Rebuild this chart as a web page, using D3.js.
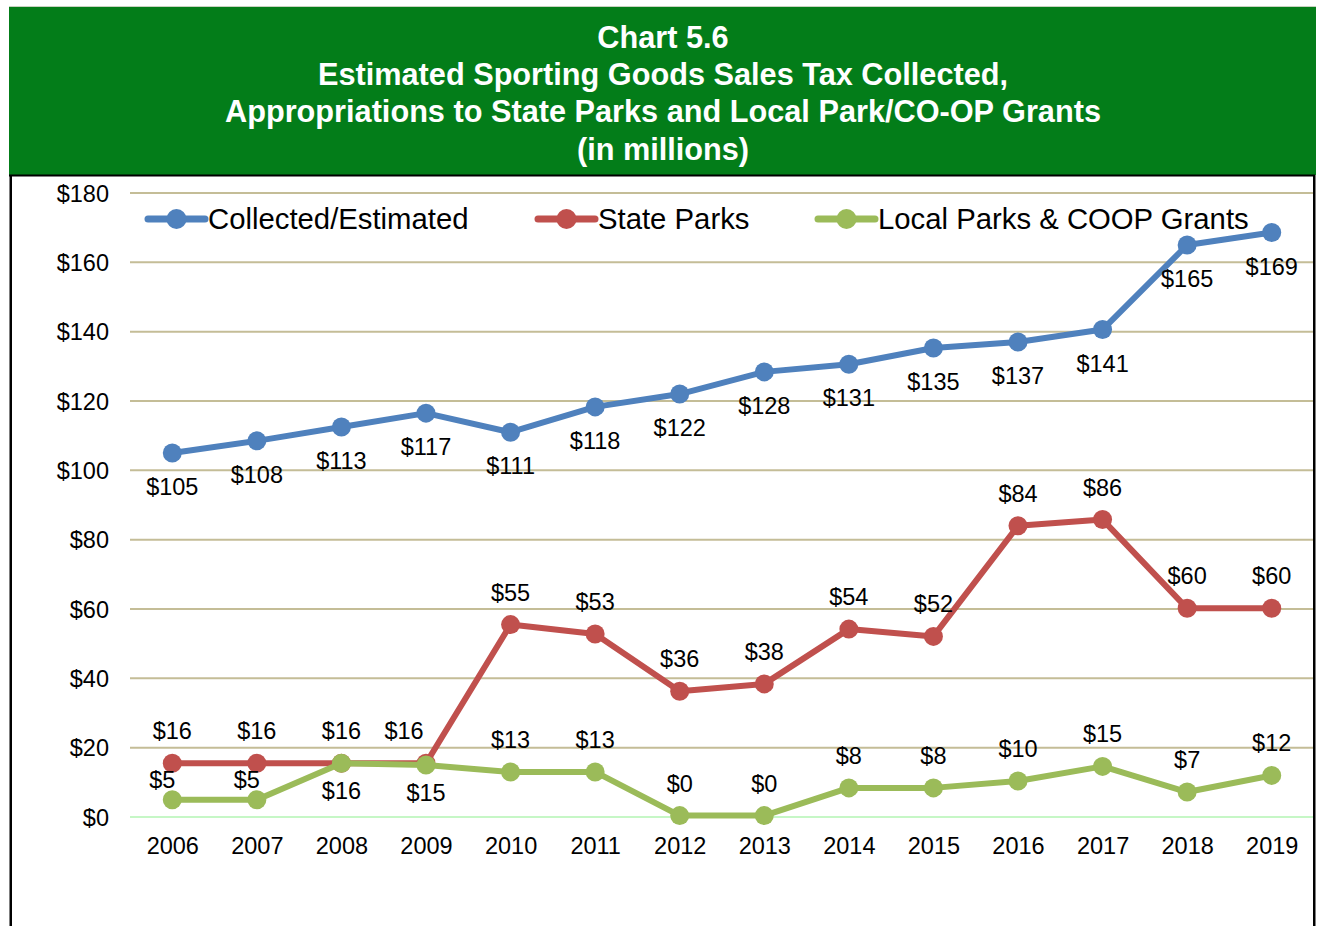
<!DOCTYPE html>
<html><head><meta charset="utf-8">
<script src="https://cdn.jsdelivr.net/npm/d3@7"></script>
<style>
html,body{margin:0;padding:0;background:#fff;}
svg{display:block;font-family:"Liberation Sans",Arial,sans-serif;}
</style></head>
<body>
<svg id="chart" width="1317" height="926"></svg>
<script>
const years = ["2006","2007","2008","2009","2010","2011","2012","2013","2014","2015","2016","2017","2018","2019"];
const collected = [105,108.5,112.5,116.5,111,118.3,122,128.4,130.6,135.3,137,140.6,165,168.6];
const stateParks = [15.5,15.5,15.5,15.5,55.5,52.8,36.3,38.4,54.2,52.1,84,85.8,60.2,60.2];
const localParks = [5,5,15.5,15,13,13,0.4,0.4,8.4,8.4,10.4,14.6,7.2,12];
const collectedLabels = ["$105","$108","$113","$117","$111","$118","$122","$128","$131","$135","$137","$141","$165","$169"];
const stateLabels = ["$16","$16","$16","$16","$55","$53","$36","$38","$54","$52","$84","$86","$60","$60"];
const localLabels = ["$5","$5","$16","$15","$13","$13","$0","$0","$8","$8","$10","$15","$7","$12"];
// label placement: "above", "below", "left" (above, shifted left), "tight" (just above-left)
const collectedPlace = years.map(()=>"below");
const statePlace = ["above","above","above","left","above","above","above","above","above","above","above","above","above","above"];
const localPlace = ["tight","tight","below","below","above","above","above","above","above","above","above","above","above","above"];
const yTicks = [0,20,40,60,80,100,120,140,160,180];
const titleLines = ["Chart 5.6","Estimated Sporting Goods Sales Tax Collected,","Appropriations to State Parks and Local Park/CO-OP Grants","(in millions)"];
const seriesNames = ["Collected/Estimated","State Parks","Local Parks & COOP Grants"];

const svg = d3.select("#chart");
const W = 1317, H = 926;
const FS = 23.5;

// frame
svg.append("rect").attr("x",9).attr("y",6).attr("width",1307).attr("height",1).attr("fill","#c8d2c0");
svg.append("rect").attr("x",9).attr("y",7).attr("width",1307).attr("height",168).attr("fill","#037d19");
svg.append("rect").attr("x",9).attr("y",174.5).attr("width",1306).attr("height",2).attr("fill","#000");
svg.append("rect").attr("x",9.5).attr("y",175).attr("width",2.5).attr("height",H-175).attr("fill","#000");
svg.append("rect").attr("x",1313).attr("y",175).attr("width",2.5).attr("height",H-175).attr("fill","#000");

// title
const title = svg.append("text").attr("text-anchor","middle").attr("fill","#fff")
  .attr("font-weight","bold").attr("font-size",30.7);
titleLines.forEach((t,i)=>{
  title.append("tspan").attr("x",663).attr("y",48+i*37.2).text(t);
});

const x = d3.scalePoint().domain(years).range([130,1314]).padding(0.5);
const y = d3.scaleLinear().domain([0,180]).range([817,193]);

// gridlines
svg.append("g").selectAll("line").data(yTicks).join("line")
  .attr("x1",130).attr("x2",1313).attr("y1",d=>y(d)).attr("y2",d=>y(d))
  .attr("stroke",d=>d===0?"#c6f7c6":"#c4bd97").attr("stroke-width",2);

// y axis
const yAxis = d3.axisLeft(y).tickValues(yTicks).tickSize(0).tickPadding(0).tickFormat(d=>"$"+d);
const gy = svg.append("g").attr("transform","translate(109,0)").call(yAxis);
gy.select(".domain").remove();
gy.selectAll("text").attr("font-size",FS).attr("fill","#000").attr("font-family","Liberation Sans, Arial, sans-serif").attr("dy","0.35em");

// x axis
const xAxis = d3.axisBottom(x).tickSize(0).tickPadding(0);
const gx = svg.append("g").attr("transform","translate(0,837)").call(xAxis);
gx.select(".domain").remove();
gx.selectAll("text").attr("font-size",FS).attr("fill","#000").attr("font-family","Liberation Sans, Arial, sans-serif").attr("dy","0.71em");

const series = [
  {name:seriesNames[0], values:collected, labels:collectedLabels, color:"#4f81bd", place:collectedPlace, belowDy:42},
  {name:seriesNames[1], values:stateParks, labels:stateLabels, color:"#c0504d", place:statePlace, belowDy:40},
  {name:seriesNames[2], values:localParks, labels:localLabels, color:"#9bbb59", place:localPlace, belowDy:36}
];

const line = d3.line().x((d,i)=>x(years[i])).y(d=>y(d));

series.forEach(s=>{
  const g = svg.append("g");
  g.append("path").datum(s.values).attr("d",line).attr("fill","none")
    .attr("stroke",s.color).attr("stroke-width",6).attr("stroke-linejoin","round");
  g.selectAll("circle").data(s.values).join("circle")
    .attr("cx",(d,i)=>x(years[i])).attr("cy",d=>y(d)).attr("r",9.5).attr("fill",s.color);
});
// labels on top
const offX = {above:0, below:0, left:-22, tight:-10};
series.forEach(s=>{
  const offY = {above:-24, below:s.belowDy, left:-24, tight:-12};
  svg.append("g").selectAll("text").data(s.values).join("text")
    .attr("x",(d,i)=>x(years[i])+offX[s.place[i]])
    .attr("y",(d,i)=>y(d)+offY[s.place[i]])
    .attr("text-anchor","middle").attr("font-size",FS).attr("fill","#000")
    .text((d,i)=>s.labels[i]);
});

// legend
const legendX = [148,538,818];
series.forEach((s,i)=>{
  const g = svg.append("g").attr("transform",`translate(${legendX[i]},219)`);
  g.append("line").attr("x1",0).attr("x2",57).attr("y1",0).attr("y2",0)
    .attr("stroke",s.color).attr("stroke-width",7).attr("stroke-linecap","round");
  g.append("circle").attr("cx",28.5).attr("cy",0).attr("r",10).attr("fill",s.color);
  g.append("text").attr("x",60).attr("y",0).attr("dy","0.35em").attr("font-size",29.3)
    .attr("fill","#000").text(s.name);
});
</script>
</body></html>
